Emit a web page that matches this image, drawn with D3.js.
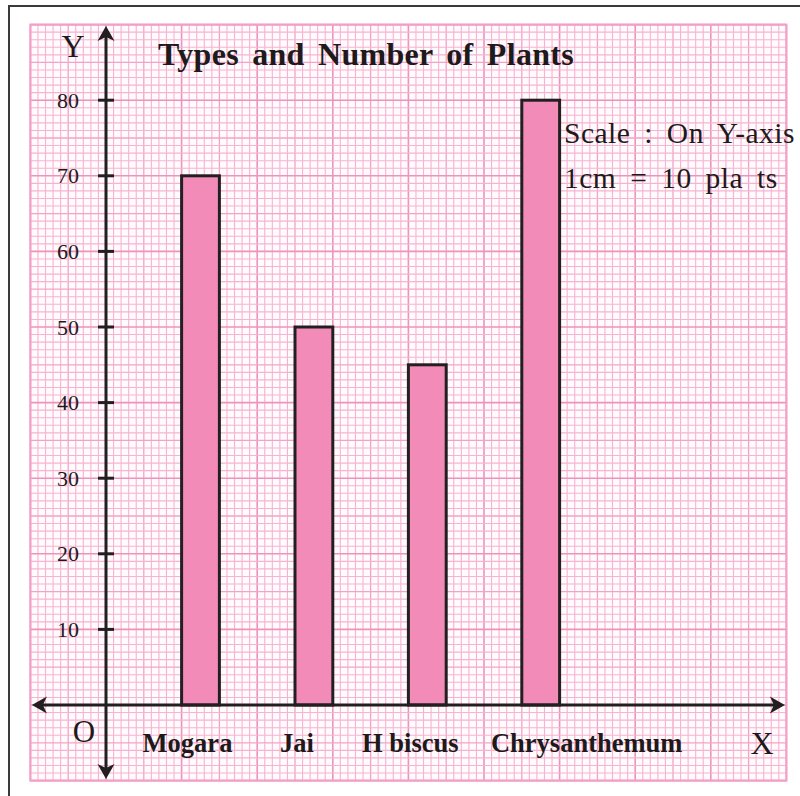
<!DOCTYPE html>
<html>
<head>
<meta charset="utf-8">
<script src="https://cdn.jsdelivr.net/npm/d3@7"></script>
<style>
  html, body { margin: 0; padding: 0; background: #fff; }
  svg { display: block; }
  text { font-family: "Liberation Serif", "Times New Roman", serif; fill: #1e1a1b; }
</style>
</head>
<body>
<svg id="chart" width="800" height="796"></svg>
<script>
// Plant counts by type
const categories = ["Mogara", "Jai", "H biscus", "Chrysanthemum"];
const plants = [70, 50, 45, 80];
const yTicks = [10, 20, 30, 40, 50, 60, 70, 80];
const title = "Types and Number of Plants";
const scaleLines = ["Scale : On Y-axis", "1cm = 10 pla ts"];

// Layout: the sheet is squared paper, 1 cm per major square
const CM = 75.6;
const originX = 106, originY = 705;
const ink = "#231f20";

const svg = d3.select("#chart");

// Outer frame
svg.append("path")
  .attr("d", `M9,800 L9,6 L800,6`)
  .attr("fill", "none").attr("stroke", "#3a3a3a").attr("stroke-width", 2);

// Graph paper, measured in cm from the origin
const gx = d3.scaleLinear().domain([-1, 9]).range([originX - CM, originX + 9 * CM]);
const gy = d3.scaleLinear().domain([-1, 9]).range([originY + CM, originY - 9 * CM]);

const paper = svg.append("g");
paper.append("rect")
  .attr("x", gx(-1)).attr("y", gy(9))
  .attr("width", gx(9) - gx(-1)).attr("height", gy(-1) - gy(9))
  .attr("fill", "#fffafc");

const mm = d3.range(0, 101).map(i => -1 + i / 10);
function lineStyle(sel) {
  sel.attr("stroke", (d, i) => i % 10 === 0 ? "#ef92bd" : (i % 5 === 0 ? "#f3a3c7" : "#f6b3d2"))
     .attr("stroke-width", (d, i) => i % 10 === 0 ? 1.6 : (i % 5 === 0 ? 1.3 : 1.1));
}
paper.selectAll("line.v").data(mm).join("line").attr("class", "v")
  .attr("x1", d => gx(d)).attr("x2", d => gx(d))
  .attr("y1", gy(9)).attr("y2", gy(-1))
  .call(lineStyle);
paper.selectAll("line.h").data(mm).join("line").attr("class", "h")
  .attr("y1", d => gy(d)).attr("y2", d => gy(d))
  .attr("x1", gx(-1)).attr("x2", gx(9))
  .call(lineStyle);
paper.append("rect")
  .attr("x", gx(-1)).attr("y", gy(9))
  .attr("width", gx(9) - gx(-1)).attr("height", gy(-1) - gy(9))
  .attr("fill", "none").attr("stroke", "#f2a0c5").attr("stroke-width", 2);

// Value scale: 1 cm = 10 plants
const y = d3.scaleLinear().domain([0, 80]).range([originY, originY - 8 * CM]);

// Bars: 0.5 cm wide, starting 1 cm from the origin, one every 1.5 cm
const x = d3.scaleBand().domain(categories)
  .range([gx(1), gx(6)]).paddingInner(2 / 3).paddingOuter(0);

svg.append("g").selectAll("rect").data(plants).join("rect")
  .attr("x", (d, i) => x(categories[i]))
  .attr("y", d => y(d))
  .attr("width", x.bandwidth())
  .attr("height", d => y(0) - y(d))
  .attr("fill", "#f28bb8")
  .attr("stroke", ink).attr("stroke-width", 3);

// Axes with arrowheads at both ends
const axes = svg.append("g");
axes.append("line")
  .attr("x1", originX).attr("x2", originX)
  .attr("y1", gy(9) + 8).attr("y2", gy(-1) - 8)
  .attr("stroke", ink).attr("stroke-width", 3);
axes.append("line")
  .attr("y1", originY).attr("y2", originY)
  .attr("x1", gx(-1) + 8).attr("x2", gx(9) - 8)
  .attr("stroke", ink).attr("stroke-width", 3);

function arrow(tx, ty, angle) {
  axes.append("path")
    .attr("d", "M0,0 L-15,-8.5 L-11,0 L-15,8.5 Z")
    .attr("transform", `translate(${tx},${ty}) rotate(${angle})`)
    .attr("fill", ink);
}
arrow(originX, gy(9) + 1.5, -90);
arrow(originX, gy(-1) - 1.5, 90);
arrow(gx(-1) + 1.5, originY, 180);
arrow(gx(9) - 1.5, originY, 0);

// Y ticks and labels
const ticks = svg.append("g");
ticks.selectAll("line").data(yTicks).join("line")
  .attr("x1", originX - 8).attr("x2", originX + 8)
  .attr("y1", d => y(d)).attr("y2", d => y(d))
  .attr("stroke", ink).attr("stroke-width", 3);
ticks.selectAll("text").data(yTicks).join("text")
  .attr("x", 79).attr("y", d => y(d) + 7.5)
  .attr("text-anchor", "end")
  .attr("font-size", 22)
  .text(d => d);

// Category labels
const labelShift = [-13, -17, -17, 46];
svg.append("g").selectAll("text").data(categories).join("text")
  .attr("x", (d, i) => x(d) + x.bandwidth() / 2 + labelShift[i])
  .attr("y", originY + 47)
  .attr("text-anchor", "middle")
  .attr("font-size", 26.5)
  .attr("font-weight", "bold")
  .text(d => d);

// Axis letters
svg.append("text").attr("x", 73).attr("y", 57).attr("text-anchor", "middle")
  .attr("font-size", 32).text("Y");
svg.append("text").attr("x", 84).attr("y", 742).attr("text-anchor", "middle")
  .attr("font-size", 31).text("O");
svg.append("text").attr("x", 762).attr("y", 754).attr("text-anchor", "middle")
  .attr("font-size", 32).text("X");

// Title
svg.append("text")
  .attr("x", 366).attr("y", 65)
  .attr("text-anchor", "middle")
  .attr("font-size", 32).attr("font-weight", "bold")
  .attr("letter-spacing", 0.3).attr("word-spacing", 5)
  .text(title);

// Scale note
svg.append("g").selectAll("text").data(scaleLines).join("text")
  .attr("x", 564)
  .attr("y", (d, i) => 143 + i * 45)
  .attr("font-size", 29.5)
  .attr("fill", "#2a2526")
  .attr("letter-spacing", 0.5).attr("word-spacing", 6)
  .text(d => d);
</script>
</body>
</html>
